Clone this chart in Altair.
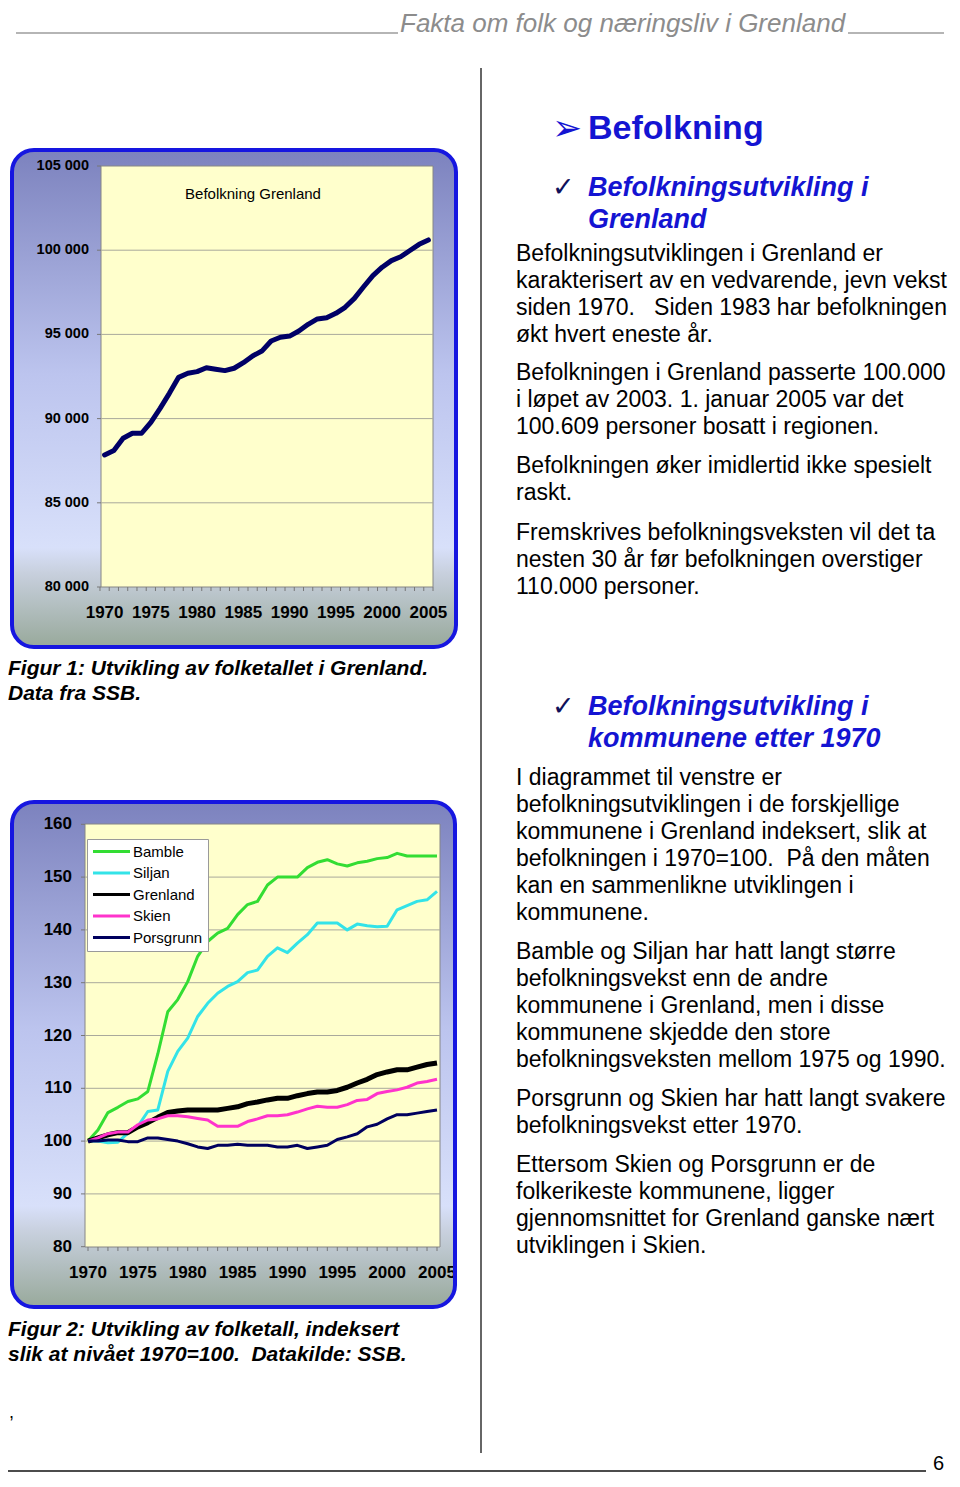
import altair as alt
import pandas as pd

# ---------------- data ----------------
years = list(range(1970, 2006))

grenland_pop = [87840, 88100, 88830, 89130, 89130, 89780, 90610, 91500, 92450, 92690,
                92790, 93020, 92930, 92850, 92990, 93320, 93720, 94010, 94610, 94830,
                94900, 95200, 95600, 95920, 95990, 96250, 96610, 97140, 97830, 98490,
                98990, 99380, 99610, 99980, 100350, 100609]

series_names = ["Bamble", "Siljan", "Grenland", "Skien", "Porsgrunn"]
series_colors = ["#33dd33", "#33e3e8", "#000000", "#ff33cc", "#00005e"]
series_widths = [3, 3, 5, 3, 3]

bamble = [100, 102.1, 105.4, 106.4, 107.5, 108.0, 109.4, 116.5, 124.5, 126.8,
          130.2, 135.0, 137.8, 139.4, 140.3, 142.9, 144.8, 145.4, 148.5, 150.0,
          150.0, 150.0, 151.8, 152.8, 153.3, 152.5, 152.1, 152.7, 153.0, 153.5,
          153.7, 154.5, 154.0, 154.0, 154.0, 154.0]
siljan = [100, 100.0, 99.7, 99.8, 101.5, 102.8, 105.6, 105.9, 113.2, 117.0,
          119.5, 123.6, 126.1, 128.0, 129.3, 130.2, 131.9, 132.4, 135.0, 136.6,
          135.7, 137.5, 139.1, 141.3, 141.3, 141.3, 140.0, 141.1, 140.8, 140.6,
          140.7, 143.8, 144.6, 145.4, 145.7, 147.3]
grenland_idx = [100, 100.6, 101.2, 101.6, 101.6, 102.7, 103.5, 104.5, 105.4, 105.7,
                105.9, 105.9, 105.9, 105.9, 106.2, 106.5, 107.1, 107.4, 107.8, 108.1,
                108.1, 108.6, 109.0, 109.3, 109.3, 109.6, 110.2, 111.0, 111.7, 112.6,
                113.1, 113.5, 113.5, 114.0, 114.5, 114.8]
skien = [100, 100.6, 101.4, 101.7, 101.7, 103.1, 104.0, 104.2, 104.8, 104.8,
         104.6, 104.3, 104.0, 102.8, 102.8, 102.8, 103.7, 104.2, 104.8, 104.8,
         105.0, 105.5, 106.1, 106.6, 106.4, 106.4, 106.9, 107.7, 107.9, 109.0,
         109.4, 109.7, 110.2, 111.0, 111.3, 111.7]
porsgrunn = [100, 100.0, 100.2, 100.2, 99.9, 99.9, 100.6, 100.6, 100.3, 100.0,
             99.5, 98.9, 98.6, 99.2, 99.2, 99.4, 99.2, 99.2, 99.2, 98.9,
             98.9, 99.2, 98.6, 98.9, 99.2, 100.3, 100.8, 101.4, 102.7, 103.2,
             104.2, 105.0, 105.0, 105.3, 105.6, 105.9]
series_values = [bamble, siljan, grenland_idx, skien, porsgrunn]

y1_ticks = [80000, 85000, 90000, 95000, 100000, 105000]
y1_labels = ["80 000", "85 000", "90 000", "95 000", "100 000", "105 000"]
x_label_years = [1970, 1975, 1980, 1985, 1990, 1995, 2000, 2005]
y2_ticks = [80, 90, 100, 110, 120, 130, 140, 150, 160]

NB = "\u00a0"
header_text = "Fakta om folk og næringsliv i Grenland"
chart1_title = "Befolkning Grenland"
heading_main = "Befolkning"
heading_1 = ["Befolkningsutvikling i", "Grenland"]
heading_2 = ["Befolkningsutvikling i", "kommunene etter 1970"]
p1 = ["Befolkningsutviklingen i Grenland er",
      "karakterisert av en vedvarende, jevn vekst",
      "siden 1970." + NB + NB + " Siden 1983 har befolkningen",
      "økt hvert eneste år."]
p2 = ["Befolkningen i Grenland passerte 100.000",
      "i løpet av 2003. 1. januar 2005 var det",
      "100.609 personer bosatt i regionen."]
p3 = ["Befolkningen øker imidlertid ikke spesielt", "raskt."]
p4 = ["Fremskrives befolkningsveksten vil det ta",
      "nesten 30 år før befolkningen overstiger",
      "110.000 personer."]
p5 = ["I diagrammet til venstre er",
      "befolkningsutviklingen i de forskjellige",
      "kommunene i Grenland indeksert, slik at",
      "befolkningen i 1970=100." + NB + " På den måten",
      "kan en sammenlikne utviklingen i",
      "kommunene."]
p6 = ["Bamble og Siljan har hatt langt større",
      "befolkningsvekst enn de andre",
      "kommunene i Grenland, men i disse",
      "kommunene skjedde den store",
      "befolkningsveksten mellom 1975 og 1990."]
p7 = ["Porsgrunn og Skien har hatt langt svakere",
      "befolkningsvekst etter 1970."]
p8 = ["Ettersom Skien og Porsgrunn er de",
      "folkerikeste kommunene, ligger",
      "gjennomsnittet for Grenland ganske nært",
      "utviklingen i Skien."]
cap1 = ["Figur 1: Utvikling av folketallet i Grenland.", "Data fra SSB."]
cap2 = ["Figur 2: Utvikling av folketall, indeksert",
        "slik at nivået 1970=100." + NB + " Datakilde: SSB."]

# ---------------- helpers (page coordinates -> chart coordinates) ----------------
OFF = 8
W, H = 944, 1471
FONT = "Liberation Sans"
one = pd.DataFrame({"k": [0]})


def P(v):
    return v - OFF


def rect(x1, y1, x2, y2, **kw):
    return alt.Chart(one).mark_rect(**kw).encode(
        x=alt.value(P(x1)), x2=alt.value(P(x2)), y=alt.value(P(y1)), y2=alt.value(P(y2)))


def hrule(x1, x2, y, color, w):
    return alt.Chart(one).mark_rule(color=color, strokeWidth=w).encode(
        x=alt.value(P(x1)), x2=alt.value(P(x2)), y=alt.value(P(y)))


def vrule(x, y1, y2, color, w):
    return alt.Chart(one).mark_rule(color=color, strokeWidth=w).encode(
        x=alt.value(P(x)), y=alt.value(P(y1)), y2=alt.value(P(y2)))


def text(s, x, y, size, weight="normal", style="normal", color="black",
         align="left", font=FONT, baseline="alphabetic", lh=None):
    mk = dict(align=align, baseline=baseline, font=font, fontSize=size,
              fontWeight=weight, fontStyle=style, color=color)
    if lh is not None:
        mk["lineHeight"] = lh
    return alt.Chart(one).mark_text(**mk).encode(
        x=alt.value(P(x)), y=alt.value(P(y)), text=alt.value(s))


def box_gradient():
    return alt.LinearGradient(
        gradient="linear", x1=0, x2=0, y1=0, y2=1,
        stops=[alt.GradientStop(offset=0, color="#7c82be"),
               alt.GradientStop(offset=0.45, color="#bcc4ee"),
               alt.GradientStop(offset=0.80, color="#d8e0fa"),
               alt.GradientStop(offset=0.85, color="#c8d0de"),
               alt.GradientStop(offset=1, color="#98a99b")])


BORDER = "#1616e0"
GRID = "#a9a99c"
PLOTFILL = "#ffffcc"
BLUE = "#1414d2"

# ---------------- Chart 1 ----------------
x1s = alt.Scale(domain=[1970, 2005], range=[P(104.6), P(428.4)], nice=False, zero=False)
y1s = alt.Scale(domain=[80000, 105000], range=[P(587), P(166)], nice=False, zero=False)

df1 = pd.DataFrame({"year": years, "pop": grenland_pop})
df1_ticks = pd.DataFrame({"v": y1_ticks, "lab": y1_labels})
df1_grid = pd.DataFrame({"v": y1_ticks[1:-1]})
df_xl = pd.DataFrame({"yr": x_label_years})
df_bounds = pd.DataFrame({"b": [y - 0.5 for y in years] + [years[-1] + 0.5]})

c1 = alt.layer(
    rect(12, 150, 456, 647, fill=box_gradient(), cornerRadius=22),
    rect(101, 166, 433, 587, fill=PLOTFILL, stroke="#868686", strokeWidth=1),
    alt.Chart(df1_grid).mark_rule(color=GRID, strokeWidth=1).encode(
        y=alt.Y("v:Q", scale=y1s, axis=None), x=alt.value(P(101)), x2=alt.value(P(433))),
    alt.Chart(df1_ticks).mark_rule(color="#777777", strokeWidth=1).encode(
        y=alt.Y("v:Q", scale=y1s, axis=None), x=alt.value(P(97)), x2=alt.value(P(101))),
    alt.Chart(df_bounds).mark_rule(color="#777777", strokeWidth=1).encode(
        x=alt.X("b:Q", scale=x1s, axis=None), y=alt.value(P(587)), y2=alt.value(P(591))),
    alt.Chart(df1).mark_line(color="#000066", strokeWidth=5, strokeCap="round",
                             strokeJoin="round").encode(
        x=alt.X("year:Q", scale=x1s, axis=None), y=alt.Y("pop:Q", scale=y1s, axis=None)),
    alt.Chart(df1_ticks).mark_text(align="right", baseline="middle", font=FONT,
                                   fontSize=14.5, fontWeight="bold", color="black").encode(
        y=alt.Y("v:Q", scale=y1s, axis=None), x=alt.value(P(89)), text="lab:N"),
    alt.Chart(df_xl).mark_text(align="center", baseline="middle", font=FONT,
                               fontSize=17, fontWeight="bold", color="black").encode(
        x=alt.X("yr:Q", scale=x1s, axis=None), y=alt.value(P(613)), text="yr:N"),
    text(chart1_title, 253, 194, 15, align="center", baseline="middle"),
    rect(12, 150, 456, 647, fill="white", fillOpacity=0, stroke=BORDER, strokeWidth=4,
         cornerRadius=22),
)

# ---------------- Chart 2 ----------------
x2s = alt.Scale(domain=[1970, 2005], range=[P(88), P(437)], nice=False, zero=False)
y2s = alt.Scale(domain=[80, 160], range=[P(1246.7), P(824.3)], nice=False, zero=False)
cscale = alt.Scale(domain=series_names, range=series_colors)

legend2 = alt.Legend(
    orient="none", legendX=P(87), legendY=P(839), direction="vertical", title=None,
    symbolType="M-3.7,0H3.7", symbolSize=100, symbolStrokeWidth=3,
    symbolOffset=12, labelOffset=14, labelFont=FONT, labelFontSize=15,
    labelColor="black", labelLimit=200, fillColor="white", strokeColor="#9a9a9a",
    padding=5, rowPadding=5.5,
)

rows = []
for name, vals in zip(series_names, series_values):
    for yr, v in zip(years, vals):
        rows.append({"year": yr, "idx": v, "series": name})
df2 = pd.DataFrame(rows)

line_layers = []
for name, w in zip(series_names, series_widths):
    line_layers.append(
        alt.Chart(df2).transform_filter(alt.datum.series == name)
        .mark_line(strokeWidth=w, strokeJoin="round").encode(
            x=alt.X("year:Q", scale=x2s, axis=None),
            y=alt.Y("idx:Q", scale=y2s, axis=None),
            color=alt.Color("series:N", scale=cscale, legend=legend2)))

df2_ticks = pd.DataFrame({"v": y2_ticks})
df2_grid = pd.DataFrame({"v": y2_ticks[1:-1]})
df_years = pd.DataFrame({"yr": years})

c2 = alt.layer(
    rect(12, 802, 455, 1307, fill=box_gradient(), cornerRadius=22),
    rect(85, 824, 440, 1247, fill=PLOTFILL, stroke="#868686", strokeWidth=1),
    alt.Chart(df2_grid).mark_rule(color=GRID, strokeWidth=1).encode(
        y=alt.Y("v:Q", scale=y2s, axis=None), x=alt.value(P(85)), x2=alt.value(P(440))),
    alt.Chart(df2_ticks).mark_rule(color="#777777", strokeWidth=1).encode(
        y=alt.Y("v:Q", scale=y2s, axis=None), x=alt.value(P(81)), x2=alt.value(P(85))),
    alt.Chart(df_years).mark_rule(color="#777777", strokeWidth=1).encode(
        x=alt.X("yr:Q", scale=x2s, axis=None), y=alt.value(P(1247)), y2=alt.value(P(1251))),
    *line_layers,
    alt.Chart(df2_ticks).mark_text(align="right", baseline="middle", font=FONT,
                                   fontSize=17, fontWeight="bold", color="black").encode(
        y=alt.Y("v:Q", scale=y2s, axis=None), x=alt.value(P(72)), text="v:N"),
    alt.Chart(df_xl).mark_text(align="center", baseline="middle", font=FONT,
                               fontSize=17, fontWeight="bold", color="black").encode(
        x=alt.X("yr:Q", scale=x2s, axis=None), y=alt.value(P(1273)), text="yr:N"),
    rect(12, 802, 455, 1307, fill="white", fillOpacity=0, stroke=BORDER, strokeWidth=4,
         cornerRadius=22),
)

# ---------------- page decoration and text ----------------
BODY = 23
LH = 27
page = [
    hrule(16, 398, 33, "#9c9c9c", 1.5),
    hrule(848, 944, 33, "#9c9c9c", 1.5),
    text(header_text, 400, 32, 26, style="italic", color="#8c8c8c"),
    vrule(481, 68, 1453, "#333333", 1.5),
    hrule(0, 926, 1471, "#111111", 1.5),
    text("6", 944, 1470, 20, align="right"),
    text("\u27a2", 552, 140, 36, color=BLUE, font="DejaVu Sans"),
    text(heading_main, 588, 139, 34, weight="bold", color=BLUE),
    text("\u2713", 552, 196, 27, color="#10105a", font="DejaVu Sans"),
    text(heading_1, 588, 196, 27, weight="bold", style="italic", color=BLUE, lh=32),
    text(p1, 516, 261, BODY, lh=LH),
    text(p2, 516, 380, BODY, lh=LH),
    text(p3, 516, 473, BODY, lh=LH),
    text(p4, 516, 540, BODY, lh=LH),
    text("\u2713", 552, 715, 27, color="#10105a", font="DejaVu Sans"),
    text(heading_2, 588, 715, 27, weight="bold", style="italic", color=BLUE, lh=32),
    text(p5, 516, 785, BODY, lh=LH),
    text(p6, 516, 959, BODY, lh=LH),
    text(p7, 516, 1106, BODY, lh=LH),
    text(p8, 516, 1172, BODY, lh=LH),
    text(cap1, 8, 675, 21, weight="bold", style="italic", lh=25),
    text(cap2, 8, 1336, 21, weight="bold", style="italic", lh=25),
    text(",", 9, 1418, 18),
]

chart = alt.layer(c1, c2, *page).resolve_scale(
    x="independent", y="independent", color="independent"
).properties(
    width=W, height=H, padding=0, autosize=alt.AutoSizeParams(type="none"),
    background="white"
).configure_view(stroke=None)

chart.save("out.html", embed_options={"renderer": "svg", "actions": False})
